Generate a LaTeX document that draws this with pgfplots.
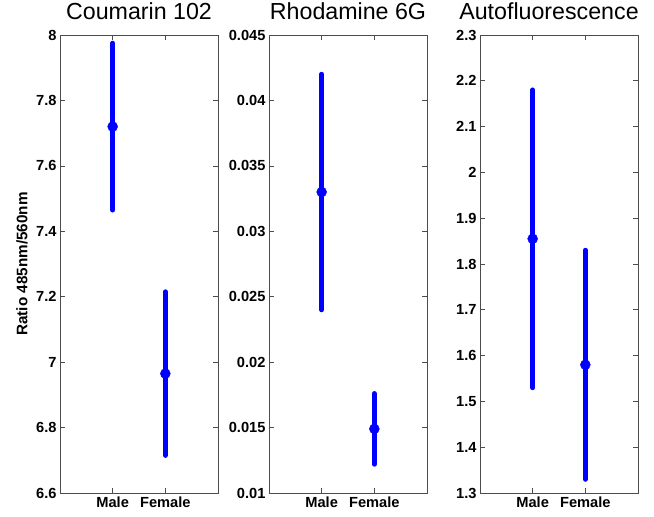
\documentclass[border=0pt]{standalone}
\usepackage{pgfplots}
\pgfplotsset{compat=1.18}
\usepackage{fontspec}
\setmainfont{Liberation Sans}

\pgfplotsset{
  panel/.style={
    scale only axis, width=158bp, height=458bp,
    anchor=south west,
    xmin=0, xmax=3, xtick={1,2}, xticklabels={Male,Female},
    tick align=inside, major tick length=5bp,
    axis line style={draw=black!70, line width=0.6pt},
    every tick/.style={draw=black!70, line width=0.6pt},
    tick label style={font=\fontsize{14.7}{16}\selectfont\bfseries},
    /pgf/number format/assume math mode=true,
    title style={font=\fontsize{23.3}{26}\selectfont, at={(0.5,1)}, anchor=base, yshift=10bp},
    scaled y ticks=false,
    yticklabel style={/pgf/number format/fixed, /pgf/number format/precision=3},
  },
  ebar/.style={blue, only marks, mark=*, mark size=5bp,
    error bars/.cd, y dir=both, y explicit, error mark=none,
    error bar style={line width=5bp, blue, line cap=round}},
}

\begin{document}
\begin{tikzpicture}
\path[use as bounding box] (0,0) rectangle (654bp,517bp);

\begin{axis}[panel, at={(60bp,24bp)},
  title={Coumarin 102},
  ymin=6.6, ymax=8, ytick={6.6,6.8,7,7.2,7.4,7.6,7.8,8},
  ylabel={Ratio 485nm/560nm},
  ylabel style={font=\fontsize{15.3}{17}\selectfont\bfseries, at={(axis description cs:-0.24,0.5)}, anchor=center},
]
\addplot[ebar] coordinates {(1,7.72) +- (0,0.255) (2,6.965) +- (0,0.25)};
\end{axis}

\begin{axis}[panel, at={(269bp,24bp)},
  title={Rhodamine 6G},
  ymin=0.01, ymax=0.045, ytick={0.01,0.015,0.02,0.025,0.03,0.035,0.04,0.045},
]
\addplot[ebar] coordinates {(1,0.033) +- (0,0.009) (2,0.0149) +- (0,0.0027)};
\end{axis}

\begin{axis}[panel, at={(480bp,24bp)},
  title={Autofluorescence},
  title style={xshift=-10bp},
  ymin=1.3, ymax=2.3, ytick={1.3,1.4,1.5,1.6,1.7,1.8,1.9,2,2.1,2.2,2.3},
]
\addplot[ebar] coordinates {(1,1.855) +- (0,0.325) (2,1.58) +- (0,0.25)};
\end{axis}
\end{tikzpicture}
\end{document}
